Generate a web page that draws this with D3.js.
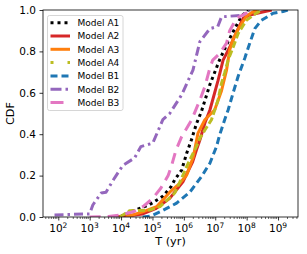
<!DOCTYPE html>
<html>
<head>
<meta charset="utf-8">
<script src="https://cdn.jsdelivr.net/npm/d3@7"></script>
<style>
  body { margin: 0; background: #fff; }
  text { font-family: "DejaVu Sans", sans-serif; fill: #000; }
</style>
</head>
<body>
<div id="chart"></div>
<script>
// model names, colours and dash styles
var models = ["Model A1", "Model A2", "Model A3", "Model A4", "Model B1", "Model B2", "Model B3"];
var colors = ["#000000", "#d62728", "#ff7f0e", "#bcbd22", "#1f77b4", "#9467bd", "#e377c2"];
var dashes = ["3,3.5", null, null, "7,3", "7,4", "9,4,2.5,4", "11,7"];
var legendDashes = ["3,4", null, null, "3,14", "7,4", "11,4,2.5,4", "13,20"];

// log10(T) and CDF
var a1_logT = [3.96, 4.31, 4.65, 4.91, 5.33, 5.59, 5.71, 5.93, 6.09, 6.24, 6.40, 6.56, 6.83, 7.14, 7.41, 7.62, 7.84, 8.04];
var a1_cdf  = [0.0, 0.025, 0.045, 0.06, 0.10, 0.146, 0.18, 0.227, 0.308, 0.372, 0.45, 0.51, 0.64, 0.76, 0.847, 0.91, 0.97, 1.0];
var a2_logT = [3.65, 4.2, 4.69, 5.1, 5.55, 5.97, 6.28, 6.40, 6.51, 6.67, 6.83, 7.09, 7.25, 7.46, 7.68, 7.89, 8.1, 8.51, 8.8];
var a2_cdf  = [0.0, 0.005, 0.015, 0.04, 0.09, 0.17, 0.267, 0.324, 0.372, 0.454, 0.517, 0.66, 0.758, 0.82, 0.894, 0.96, 0.976, 0.99, 1.0];
var a3_logT = [4.15, 4.69, 5.13, 5.55, 5.87, 6.09, 6.30, 6.45, 6.67, 6.98, 7.20, 7.36, 7.46, 7.57, 7.78, 7.99, 8.19, 8.35];
var a3_cdf  = [0.0, 0.025, 0.05, 0.12, 0.163, 0.203, 0.29, 0.405, 0.47, 0.517, 0.61, 0.71, 0.807, 0.86, 0.92, 0.97, 0.99, 1.0];
var a4_logT = [3.96, 4.27, 4.92, 5.24, 5.71, 5.93, 6.14, 6.40, 6.51, 6.67, 6.88, 7.09, 7.20, 7.30, 7.41, 7.57, 7.73, 7.99, 8.31, 8.48];
var a4_cdf  = [0.0, 0.03, 0.034, 0.05, 0.116, 0.188, 0.26, 0.34, 0.38, 0.42, 0.47, 0.565, 0.647, 0.696, 0.758, 0.82, 0.887, 0.95, 0.985, 1.0];
var b1_logT = [4.69, 4.95, 5.24, 5.77, 6.19, 6.56, 6.83, 7.04, 7.14, 7.30, 7.41, 7.57, 7.73, 7.94, 8.10, 8.26, 8.47, 8.84, 9.16, 9.31];
var b1_cdf  = [0.0, 0.005, 0.025, 0.067, 0.12, 0.195, 0.26, 0.34, 0.396, 0.47, 0.517, 0.6, 0.68, 0.767, 0.84, 0.91, 0.95, 0.984, 0.993, 1.0];
var b2_logT = [1.88, 3.0, 3.10, 3.37, 3.52, 3.79, 4.06, 4.43, 4.63, 5.01, 5.33, 5.55, 5.93, 6.29, 6.51, 6.83, 7.08, 7.20, 7.88, 8.1];
var b2_cdf  = [0.01, 0.015, 0.058, 0.116, 0.12, 0.188, 0.25, 0.285, 0.34, 0.357, 0.47, 0.50, 0.59, 0.71, 0.847, 0.91, 0.92, 0.967, 0.975, 1.0];
var b3_logT = [3.0, 3.6, 4.0, 4.38, 4.7, 5.01, 5.27, 5.5, 5.6, 5.75, 5.93, 6.25, 6.51, 6.67, 6.83, 6.92, 7.14, 7.36, 7.46, 7.68, 7.99, 8.1];
var b3_cdf  = [0.0, 0.002, 0.01, 0.025, 0.05, 0.09, 0.14, 0.2, 0.243, 0.324, 0.388, 0.47, 0.565, 0.63, 0.72, 0.758, 0.79, 0.84, 0.90, 0.96, 0.985, 1.0];

var seriesLogT = [a1_logT, a2_logT, a3_logT, a4_logT, b1_logT, b2_logT, b3_logT];
var seriesCdf = [a1_cdf, a2_cdf, a3_cdf, a4_cdf, b1_cdf, b2_cdf, b3_cdf];

var yTicks = [0, 0.2, 0.4, 0.6, 0.8, 1.0];
var xTickExps = [2, 3, 4, 5, 6, 7, 8, 9];

var W = 307, H = 254;
var axL = 43, axR = 298, axT = 10, axB = 217;

var svg = d3.select("#chart").append("svg")
    .attr("width", W)
    .attr("height", H);

var x = d3.scaleLog()
    .domain([Math.pow(10, 1.513), Math.pow(10, 9.636)])
    .range([axL, axR]);
var y = d3.scaleLinear()
    .domain([0, 1])
    .range([axB, axT]);

svg.append("clipPath").attr("id", "clip")
    .append("rect")
    .attr("x", axL).attr("y", axT)
    .attr("width", axR - axL).attr("height", axB - axT);

// curves
var line = d3.line()
    .x(d => x(Math.pow(10, d[0])))
    .y(d => y(d[1]));

var plot = svg.append("g").attr("clip-path", "url(#clip)");
seriesLogT.forEach(function (lt, i) {
    var pts = lt.map((v, j) => [v, seriesCdf[i][j]]);
    plot.append("path")
        .datum(pts)
        .attr("d", line)
        .attr("fill", "none")
        .attr("stroke", colors[i])
        .attr("stroke-width", 3)
        .attr("stroke-dasharray", dashes[i])
        .attr("stroke-linejoin", "round");
});

// axes
var xAxis = d3.axisBottom(x)
    .tickValues(xTickExps.map(e => Math.pow(10, e)))
    .tickSize(3.5)
    .tickFormat("");
var gx = svg.append("g")
    .attr("transform", "translate(0," + axB + ")")
    .call(xAxis);
gx.select(".domain").remove();
gx.selectAll(".tick line").attr("stroke", "#000").attr("stroke-width", 0.8);

// minor ticks
var minor = [];
for (var e = 1; e <= 9; e++) {
    for (var m = 2; m <= 9; m++) {
        var v = m * Math.pow(10, e);
        if (v > x.domain()[0] && v < x.domain()[1]) minor.push(v);
    }
}
svg.append("g").selectAll("line")
    .data(minor)
    .join("line")
    .attr("x1", d => x(d)).attr("x2", d => x(d))
    .attr("y1", axB).attr("y2", axB + 2)
    .attr("stroke", "#000")
    .attr("stroke-width", 0.6);

// x tick labels with superscripts
var xl = svg.append("g").selectAll("text")
    .data(xTickExps)
    .join("text")
    .attr("x", d => x(Math.pow(10, d)))
    .attr("y", 232)
    .attr("text-anchor", "middle")
    .attr("font-size", 10.5);
xl.append("tspan").text("10");
xl.append("tspan")
    .attr("font-size", 7.5)
    .attr("dy", -4.5)
    .text(d => d);

var yAxis = d3.axisLeft(y)
    .tickValues(yTicks)
    .tickSize(3.5)
    .tickPadding(3.5)
    .tickFormat(d3.format(".1f"));
var gy = svg.append("g")
    .attr("transform", "translate(" + axL + ",0)")
    .call(yAxis);
gy.select(".domain").remove();
gy.selectAll(".tick line").attr("stroke", "#000").attr("stroke-width", 0.8);
gy.selectAll(".tick text")
    .attr("font-family", "DejaVu Sans")
    .attr("font-size", 10.5)
    .attr("fill", "#000");

// spines
svg.append("rect")
    .attr("x", axL).attr("y", axT)
    .attr("width", axR - axL).attr("height", axB - axT)
    .attr("fill", "none")
    .attr("stroke", "#000")
    .attr("stroke-width", 0.8);

// labels
svg.append("text")
    .attr("x", (axL + axR) / 2)
    .attr("y", 245)
    .attr("text-anchor", "middle")
    .attr("font-size", 11.3)
    .text("T (yr)");
svg.append("text")
    .attr("transform", "translate(14," + (axT + axB) / 2 + ") rotate(-90)")
    .attr("text-anchor", "middle")
    .attr("font-size", 11.3)
    .text("CDF");

// legend
var lg = svg.append("g");
lg.append("rect")
    .attr("x", 47.5).attr("y", 15.5)
    .attr("width", 75.5).attr("height", 95)
    .attr("rx", 2)
    .attr("fill", "#fff")
    .attr("fill-opacity", 0.8)
    .attr("stroke", "#cccccc")
    .attr("stroke-width", 0.8);
var rows = lg.selectAll("g.row")
    .data(models)
    .join("g")
    .attr("class", "row")
    .attr("transform", (d, i) => "translate(0," + (22.7 + i * 13.3) + ")");
rows.append("line")
    .attr("x1", 50.5).attr("x2", 70)
    .attr("y1", 0).attr("y2", 0)
    .attr("stroke", (d, i) => colors[i])
    .attr("stroke-width", 3)
    .attr("stroke-dasharray", (d, i) => legendDashes[i]);
rows.append("text")
    .attr("x", 77.5)
    .attr("y", 3.3)
    .attr("font-size", 9)
    .text(d => d);
</script>
</body>
</html>
